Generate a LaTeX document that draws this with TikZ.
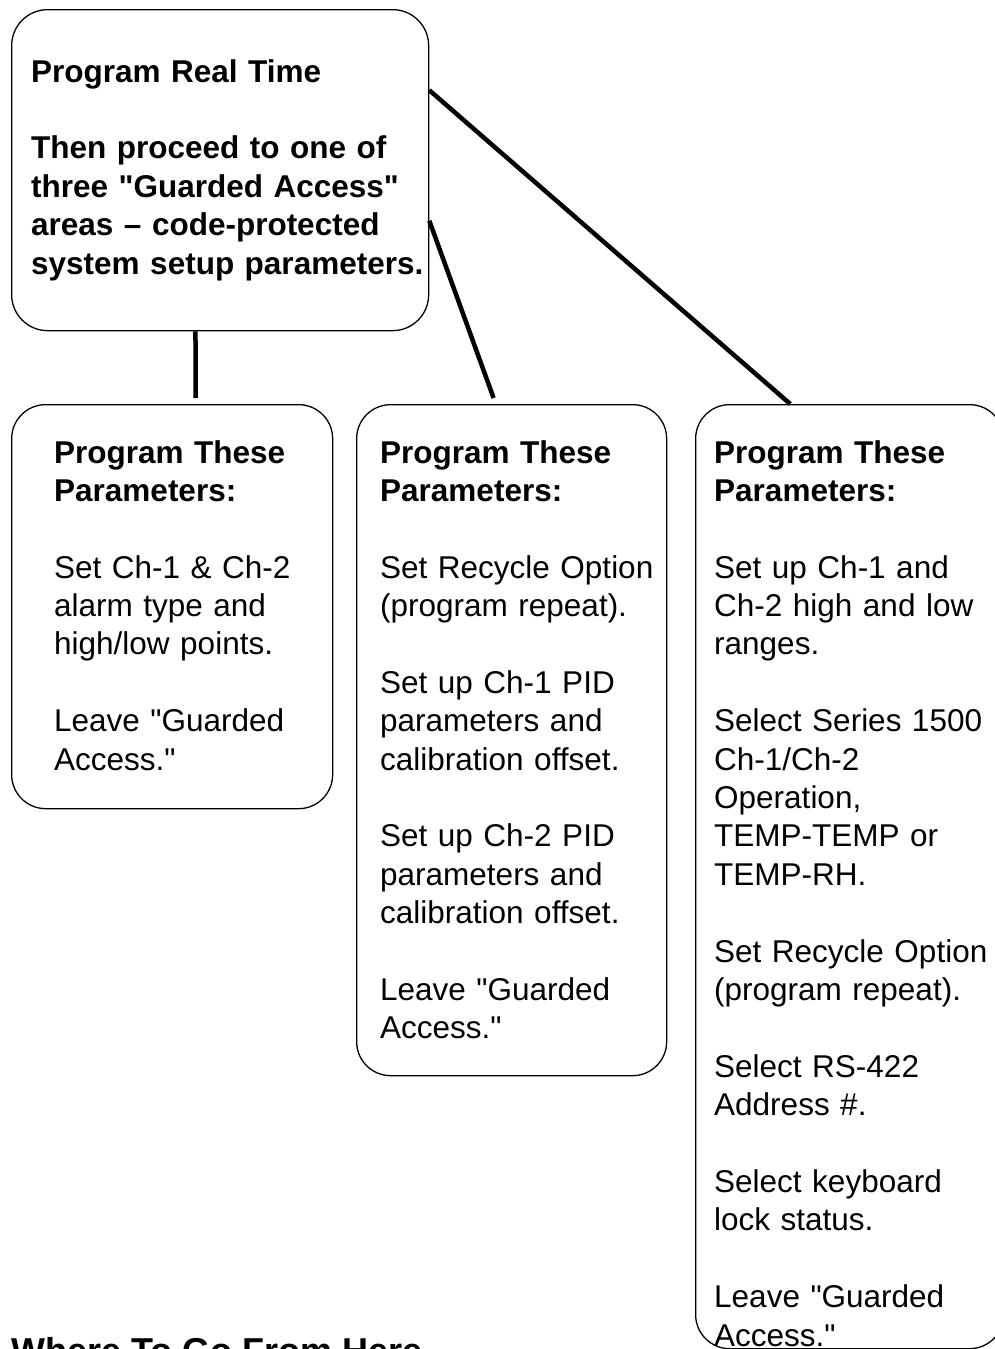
\documentclass[tikz,border=0pt]{standalone}
\usepackage{fontspec}
\setmainfont{Liberation Sans}[Ligatures=TeXOff]
\usetikzlibrary{calc}
\newcommand\qq{\symbol{34}}
\hyphenpenalty=10000
\begin{document}
\begin{tikzpicture}[x=1pt,y=-1pt,
  box/.style={draw=black,line width=1.3pt,rounded corners=36pt,anchor=north west,inner sep=0pt},
  txt/.style={anchor=base west,inner sep=0pt,align=left,text width=600pt,font=\fontsize{31.5}{38.4}\selectfont},
  conn/.style={line width=4.5pt}]
\useasboundingbox (0,0) rectangle (994,1349);
% boxes
\node[box,minimum width=417pt,minimum height=321pt] (top) at (11,9) {};
\node[box,minimum width=321pt,minimum height=404pt,rounded corners=34pt] (b1) at (11,404) {};
\node[box,minimum width=310pt,minimum height=671pt,rounded corners=34pt] (b2) at (356,404) {};
\node[box,minimum width=308pt,minimum height=944pt,rounded corners=34pt] (b3) at (695,404) {};
% texts
\node[txt] (ttop) at (31,82) {\bfseries Program Real Time\\[38.4pt]
Then proceed to one of\\three \qq Guarded Access\qq\\areas – code-protected\\system setup parameters.};
\node[txt] (h1) at (54,463) {\bfseries Program These\\\bfseries Parameters:};
\node[txt] (t1) at (54,578) {Set Ch-1 \& Ch-2\\alarm type and\\high/low points.\\[38.4pt]
Leave \qq Guarded\\Access.\qq};
\node[txt] (h2) at (380,463) {\bfseries Program These\\\bfseries Parameters:};
\node[txt] (t2) at (380,578) {Set Recycle Option\\(program repeat).\\[38.4pt]
Set up Ch-1 PID\\parameters and\\calibration offset.\\[38.4pt]
Set up Ch-2 PID\\parameters and\\calibration offset.\\[38.4pt]
Leave \qq Guarded\\Access.\qq};
\node[txt] (h3) at (714,463) {\bfseries Program These\\\bfseries Parameters:};
\node[txt] (t3) at (714,578) {Set up Ch-1 and\\Ch-2 high and low\\ranges.\\[38.4pt]
Select Series 1500\\Ch-1/Ch-2\\Operation,\\TEMP-TEMP or\\TEMP-RH.\\[38.4pt]
Set Recycle Option\\(program repeat).\\[38.4pt]
Select RS-422\\Address \#.\\[38.4pt]
Select keyboard\\lock status.\\[38.4pt]
Leave \qq Guarded\\Access.\qq};
\node[anchor=base west,inner sep=0pt,font=\fontsize{36}{43}\selectfont\bfseries] (where) at (11,1363) {Where To Go From Here};
% connector end points
\coordinate (s1) at ($(top.south west)!0.441!(top.south east)$);
\coordinate (e1) at ($(b1.north west)!0.573!(b1.north east)+(0,-6)$);
\coordinate (s2) at ($(top.north east)!0.657!(top.south east)$);
\coordinate (e2) at ($(b2.north west)!0.442!(b2.north east)+(0,-6)$);
\coordinate (s3) at ($(top.north east)!0.252!(top.south east)$);
\coordinate (e3) at ($(b3.north west)!0.308!(b3.north east)$);
\draw[conn] (s1) -- (e1);
\draw[conn] (s2) -- (e2);
\draw[conn] (s3) -- (e3);
\end{tikzpicture}
\end{document}
